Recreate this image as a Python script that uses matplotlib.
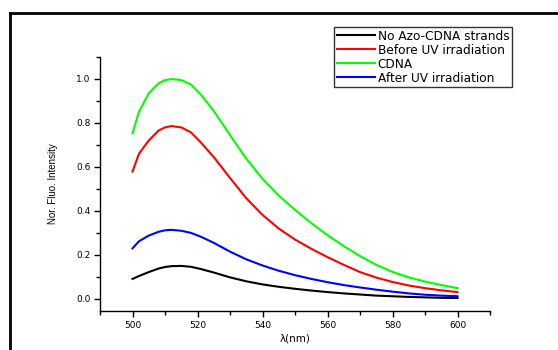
import matplotlib.pyplot as plt
from matplotlib.lines import Line2D
from matplotlib.ticker import MultipleLocator

wavelength = [500, 502, 505, 508, 510, 512, 515, 518, 521, 525, 530, 535, 540,
              545, 550, 555, 560, 565, 570, 575, 580, 585, 590, 595, 600]

no_azo = [0.091, 0.104, 0.122, 0.138, 0.145, 0.149, 0.150, 0.146, 0.136, 0.120, 0.098, 0.080, 0.066,
          0.055, 0.046, 0.038, 0.031, 0.025, 0.020, 0.015, 0.012, 0.009, 0.007, 0.005, 0.004]
before_uv = [0.579, 0.66, 0.72, 0.765, 0.78, 0.786, 0.78, 0.757, 0.712, 0.645, 0.55, 0.458, 0.382,
             0.32, 0.27, 0.228, 0.19, 0.155, 0.122, 0.097, 0.077, 0.061, 0.049, 0.039, 0.031]
cdna = [0.753, 0.85, 0.935, 0.98, 0.995, 1.0, 0.995, 0.975, 0.93, 0.855, 0.745, 0.638, 0.546,
        0.47, 0.405, 0.345, 0.29, 0.24, 0.195, 0.155, 0.123, 0.098, 0.079, 0.063, 0.049]
after_uv = [0.23, 0.262, 0.288, 0.305, 0.312, 0.314, 0.31, 0.3, 0.283, 0.255, 0.215, 0.18, 0.152,
            0.128, 0.108, 0.091, 0.076, 0.063, 0.052, 0.042, 0.033, 0.025, 0.019, 0.015, 0.012]

series = [
    ("No Azo-CDNA strands", no_azo, "black"),
    ("Before UV irradiation", before_uv, "#ff0000"),
    ("CDNA", cdna, "#00ff00"),
    ("After UV irradiation", after_uv, "#0000ff"),
]

plt.rcParams["font.family"] = ["DejaVu Sans"]

fig = plt.figure(figsize=(5.58, 3.5), dpi=100)
ax = fig.add_axes([100 / 558, 1 - 311 / 350, (490 - 100) / 558, (311 - 57) / 350])

for name, vals, col in series:
    ax.plot(wavelength, vals, color=col, lw=1.5, label=name)

ax.set_xlim(490, 610)
ax.set_ylim(-0.055, 1.1)
ax.xaxis.set_major_locator(MultipleLocator(20))
ax.xaxis.set_minor_locator(MultipleLocator(10))
ax.yaxis.set_major_locator(MultipleLocator(0.2))
ax.yaxis.set_minor_locator(MultipleLocator(0.1))
ax.yaxis.set_major_formatter(plt.FuncFormatter(lambda v, p: f"{v:.1f}"))
ax.tick_params(which="major", direction="out", length=4, width=1, labelsize=6.5, pad=3)
ax.tick_params(which="minor", direction="out", length=3, width=1)

ax.spines["top"].set_visible(False)
ax.spines["right"].set_visible(False)
ax.spines["left"].set_linewidth(1)
ax.spines["bottom"].set_linewidth(1)

ax.set_xlabel("λ(nm)", fontsize=7.5, labelpad=3)
ax.set_ylabel("Nor. Fluo. Intensity", fontsize=7, family="Liberation Sans", labelpad=13)

leg = ax.legend(loc="upper left", bbox_to_anchor=(334 / 558, 1 - 27 / 350),
                bbox_transform=fig.transFigure, borderaxespad=0, fontsize=8.7,
                frameon=True, fancybox=False, handlelength=3.2, handletextpad=0.2,
                labelspacing=0.08, borderpad=0.22)
leg.get_frame().set_edgecolor("black")
leg.get_frame().set_linewidth(1)

# outer frame of the original image
fig.add_artist(Line2D([9.5 / 558, 1.0], [1 - 13 / 350, 1 - 13 / 350],
                      transform=fig.transFigure, color="black", lw=2))
fig.add_artist(Line2D([9.5 / 558, 9.5 / 558], [0.0, 1 - 13 / 350],
                      transform=fig.transFigure, color="black", lw=2))

fig.savefig("out.png", dpi=100)
